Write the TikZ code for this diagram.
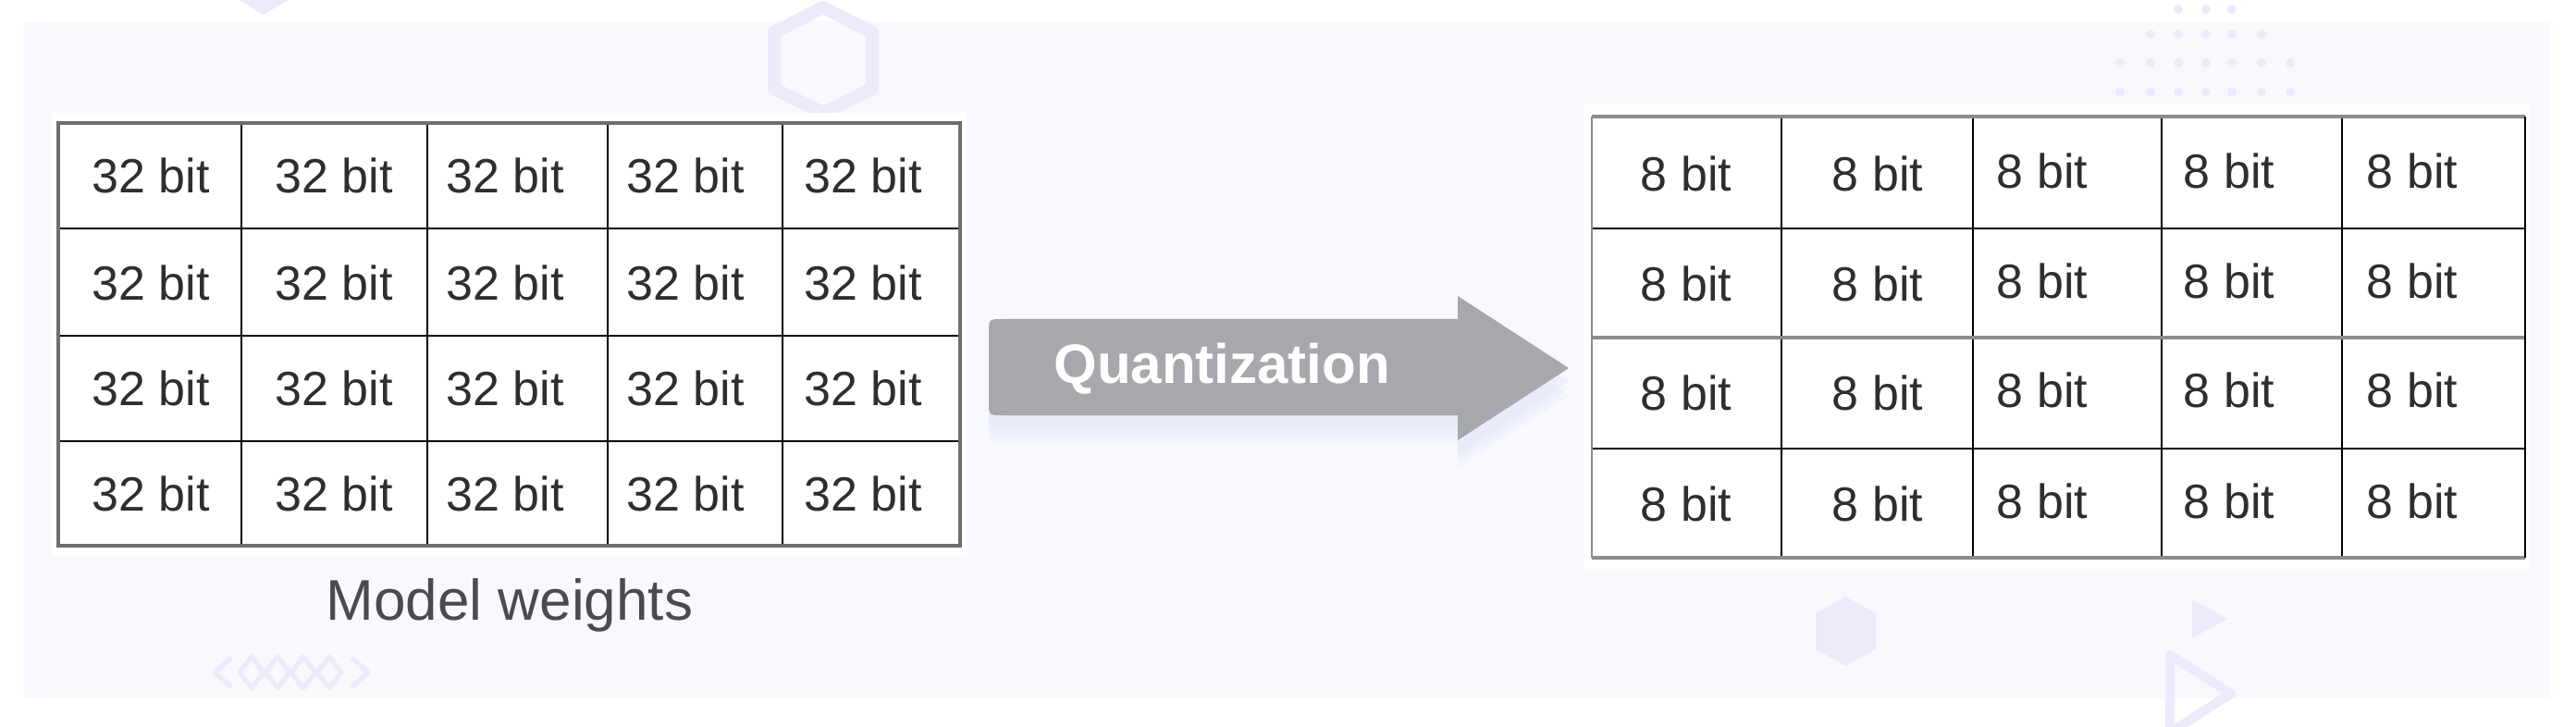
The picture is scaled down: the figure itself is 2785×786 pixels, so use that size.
\documentclass[tikz,border=0pt]{standalone}
\usepackage{fontspec}
\setmainfont{Liberation Sans}
\definecolor{panel}{HTML}{F8F9FE}
\definecolor{deco}{HTML}{ECEBFC}
\definecolor{arrowc}{HTML}{A7A8AD}
\definecolor{textc}{HTML}{2E2E2E}
\definecolor{mwc}{HTML}{4A4A52}
\definecolor{shadowc}{HTML}{E4E8F8}
\definecolor{bordc}{HTML}{6E6E6E}
\definecolor{bordr}{HTML}{8C8C8C}
\begin{document}
\begin{tikzpicture}[x=0.5pt,y=-0.5pt,
  cell/.style={font=\fontsize{26}{30}\selectfont, text=textc, inner sep=0pt},
  innerline/.style={draw=black, line width=1.1pt},
  outerline/.style={draw=bordc, line width=1.6pt},
  outerr/.style={draw=bordr, line width=2.2pt},
  decoline/.style={draw=deco, line width=#1, line join=round},
  qtext/.style={font=\fontsize{30}{34}\selectfont\bfseries, text=white, inner sep=0pt},
  mwtext/.style={font=\fontsize{31}{36}\selectfont, text=mwc, inner sep=0pt}]
\useasboundingbox (0,0) rectangle (2785,786);
\fill[white] (0,0) rectangle (2785,786);
% decorations above panel
\fill[deco] (250,-5) -- (320,-5) -- (285,16) -- cycle;
\foreach \x in {2355,2385,2413} \fill[deco] (\x,10) circle (5);
\fill[panel] (26,23) rectangle (2757,755);
% decorations on panel
\draw[decoline=7pt] (890,8) -- (943,35) -- (943,96) -- (890,122) -- (837,96) -- (837,35) -- cycle;
\foreach \x in {2325,2355,2385,2413,2445} \fill[deco] (\x,37) circle (5);
\foreach \y in {68,99}
  \foreach \x in {2292,2325,2355,2385,2413,2445,2476} \fill[deco] (\x,\y) circle (5);
\draw[decoline=2.6pt] (250,711) -- (232,727) -- (250,743);
\foreach \x in {272,300,328,356}
  \draw[decoline=2.6pt] (\x-13,727) -- (\x,710) -- (\x+13,727) -- (\x,744) -- cycle;
\draw[decoline=2.6pt] (380,711) -- (398,727) -- (380,743);
\fill[deco] (1995,645) -- (2028,663) -- (2028,702) -- (1995,720) -- (1963,702) -- (1963,663) -- cycle;
\fill[deco] (2370,648) -- (2408,669) -- (2370,690) -- cycle;
\draw[decoline=5pt] (2346,708) -- (2412,750) -- (2346,792) -- cycle;
% white cards
\fill[white] (56,122) rectangle (1045,600);
\fill[white] (1712,113) rectangle (2735,615);
% left grid
\foreach \x in {261,462,657,846} \draw[innerline] (\x,133) -- (\x,590);
\foreach \y in {247,363,477} \draw[innerline] (63,\y) -- (1038,\y);
\draw[outerline] (63,133) rectangle (1038,590);
\foreach \x [count=\i] in {163,361,546,741,933}
  \foreach \y [count=\j] in {190,306,420,534}
    \node[cell] (L\j\i) at (\x,\y) {32 bit};
% right grid
\foreach \x in {1926,2133,2337,2532} \draw[innerline] (\x,126) -- (\x,603);
\foreach \y in {247,485} \draw[innerline] (1721,\y) -- (2730,\y);
\draw[outerr] (1721,365) -- (2730,365);
\draw[outerr] (1721,126) -- (2730,126);
\draw[outerr] (1721,603) -- (2730,603);
\draw[innerline] (2730,126) -- (2730,603);
\draw[draw=bordr, line width=1.1pt] (1721,126) -- (1721,603);
\foreach \x/\dy [count=\i] in {1823/0,2030/0,2208/-3,2410/-3,2608/-3}
  \foreach \y [count=\j] in {188,307,425,545}
    \node[cell] (R\j\i) at (\x,{\y+\dy}) {8 bit};
% arrow shadow
\foreach \o/\op in {30/0.25,22/0.35,14/0.45}
  \fill[shadowc, opacity=\op] (1576,345+\o) -- (1084,345+\o) .. controls (1069,345+\o) .. (1069,360+\o) -- (1069,434+\o) .. controls (1069,449+\o) .. (1084,449+\o) -- (1576,449+\o) -- (1576,476+\o) -- (1696,398+\o) -- (1576,320+\o) -- cycle;
% arrow
\fill[arrowc] (1576,345) -- (1084,345) .. controls (1069,345) .. (1069,360) -- (1069,434) .. controls (1069,449) .. (1084,449) -- (1576,449) -- (1576,476) -- (1696,398) -- (1576,320) -- cycle;
\node[qtext, anchor=base] (q) at (1321,415) {Quantization};
\node[mwtext, anchor=base] (mw) at (551,670) {Model weights};
\end{tikzpicture}
\end{document}
